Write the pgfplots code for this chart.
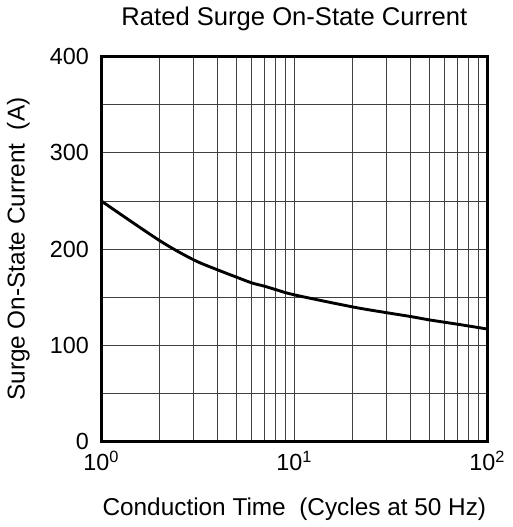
\documentclass[border=0pt]{standalone}
\usepackage{pgfplots}
\pgfplotsset{compat=1.18}
\usepackage{fontspec}
\setmainfont{Liberation Sans}
\begin{document}
\begin{tikzpicture}
\begin{axis}[
    scale only axis,
    width=187pt, height=186.5pt,
    xmode=log, log basis x={10},
    xmin=1, xmax=100,
    ymin=0, ymax=400,
    xtick={1,10,100},
    xticklabels={10\textsuperscript{0},10\textsuperscript{1},10\textsuperscript{2}},
    minor xtick={2,3,4,5,6,7,8,9,20,30,40,50,60,70,80,90},
    ytick={0,100,200,300,400},
    minor ytick={50,150,250,350},
    grid=both,
    major grid style={line width=0.45pt, black!75},
    minor grid style={line width=0.45pt, black!75},
    axis line style={line width=1.3pt, black},
    tick style={draw=none},
    /pgf/number format/assume math mode=true,
    tick label style={font=\fontsize{11.3}{13}\selectfont},
    label style={font=\fontsize{11.8}{14}\selectfont},
    xticklabel style={yshift=-1pt},
    yticklabel style={xshift=-2.5pt},
    title={Rated Surge On-State Current},
    title style={font=\fontsize{12.4}{14}\selectfont, yshift=3pt},
    xlabel={Conduction Time\ \ (Cycles at 50 Hz)},
    ylabel={Surge On-State Current\ \ (A)},
    xlabel style={yshift=-6pt},
    ylabel style={yshift=3pt},
]
\addplot[black, line width=1.4pt, smooth] coordinates {
(1,250) (2,209) (3,189) (4,178.5) (5,171) (6,165) (7,161.5) (8,158)
(10,152.5) (20,140) (30,134) (40,130) (50,126.5) (70,122) (100,117)
};
\end{axis}
\end{tikzpicture}
\end{document}
